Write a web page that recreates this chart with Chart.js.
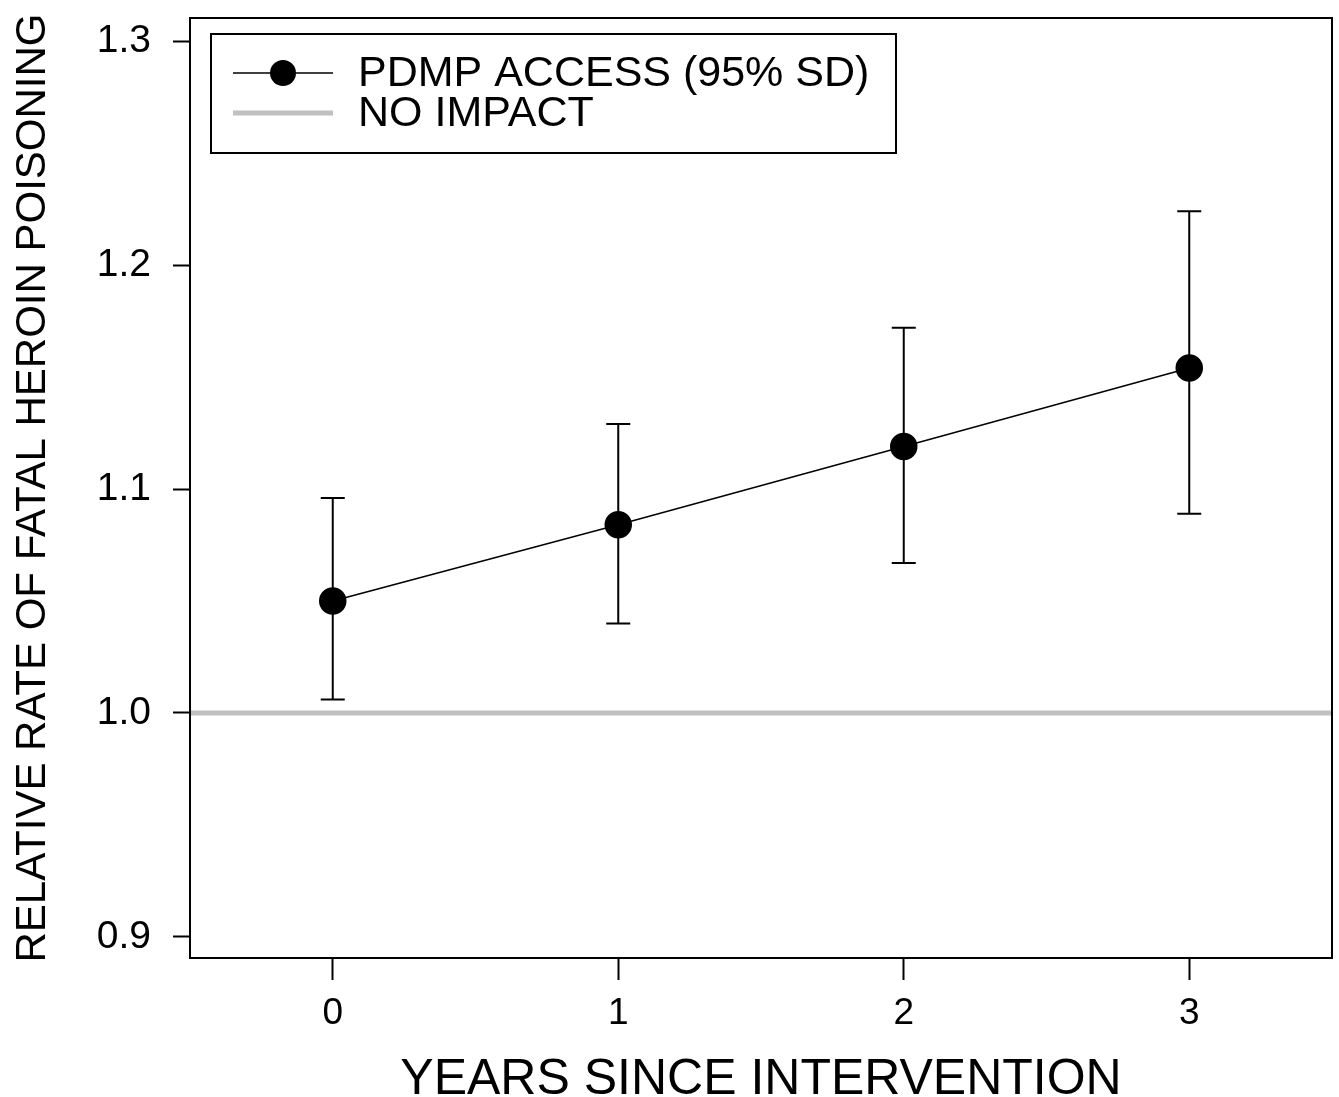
<!DOCTYPE html>
<html>
<head>
<meta charset="utf-8">
<script src="https://cdn.jsdelivr.net/npm/chart.js@4.4.0/dist/chart.umd.min.js"></script>
<style>
html,body{margin:0;padding:0;background:#fff;}
#wrap{width:1339px;height:1097px;}
</style>
</head>
<body>
<div id="wrap"><canvas id="c" width="1339" height="1097"></canvas></div>
<script>
const years = [0, 1, 2, 3];
const rateMean = [1.050, 1.084, 1.119, 1.154];
const rateUpper = [1.096, 1.129, 1.172, 1.224];
const rateLower = [1.006, 1.040, 1.067, 1.089];
const noImpactValue = 1.0;
const yTicks = [0.9, 1.0, 1.1, 1.2, 1.3];
const xTicks = [0, 1, 2, 3];
const seriesLabels = ['PDMP ACCESS (95% SD)', 'NO IMPACT'];
const xTitle = 'YEARS SINCE INTERVENTION';
const yTitle = 'RELATIVE RATE OF FATAL HEROIN POISONING';

const FONT = '"Liberation Sans", Arial, sans-serif';

const errorBars = {
  id: 'errorBars',
  beforeDatasetsDraw(chart) {
    const ctx = chart.ctx, xs = chart.scales.x, ys = chart.scales.y;
    ctx.save();
    ctx.strokeStyle = '#000';
    ctx.lineWidth = 2;
    years.forEach((yr, i) => {
      const px = xs.getPixelForValue(yr);
      const pu = ys.getPixelForValue(rateUpper[i]);
      const pl = ys.getPixelForValue(rateLower[i]);
      ctx.beginPath();
      ctx.moveTo(px, pu); ctx.lineTo(px, pl);
      ctx.moveTo(px - 12, pu); ctx.lineTo(px + 12, pu);
      ctx.moveTo(px - 12, pl); ctx.lineTo(px + 12, pl);
      ctx.stroke();
    });
    ctx.restore();
  }
};

const frameAndLegend = {
  id: 'frameAndLegend',
  afterDraw(chart) {
    const ctx = chart.ctx, a = chart.chartArea;
    ctx.save();
    ctx.strokeStyle = '#000';
    ctx.lineWidth = 2;
    ctx.strokeRect(a.left, a.top, a.right - a.left, a.bottom - a.top);
    const lx = a.left + 21, ly = a.top + 16, lw = 685, lh = 119;
    ctx.fillStyle = '#fff';
    ctx.fillRect(lx, ly, lw, lh);
    ctx.strokeRect(lx, ly, lw, lh);
    const y1 = ly + 39, y2 = ly + 79;
    ctx.lineWidth = 1.5;
    ctx.beginPath(); ctx.moveTo(lx + 22, y1); ctx.lineTo(lx + 122, y1); ctx.stroke();
    ctx.fillStyle = '#000';
    ctx.beginPath(); ctx.arc(lx + 72, y1, 13, 0, Math.PI * 2); ctx.fill();
    ctx.strokeStyle = '#c0c0c0';
    ctx.lineWidth = 5;
    ctx.beginPath(); ctx.moveTo(lx + 22, y2); ctx.lineTo(lx + 122, y2); ctx.stroke();
    ctx.fillStyle = '#000';
    ctx.font = '43px ' + FONT;
    ctx.textBaseline = 'middle';
    ctx.textAlign = 'left';
    ctx.fillText(seriesLabels[0], lx + 147, y1 + 1);
    ctx.fillText(seriesLabels[1], lx + 147, y2 + 1);
    ctx.restore();
  }
};

new Chart(document.getElementById('c'), {
  type: 'scatter',
  data: {
    datasets: [
      {
        label: seriesLabels[1],
        data: [{x: -0.5, y: noImpactValue}, {x: 3.5, y: noImpactValue}],
        showLine: true,
        borderColor: '#c0c0c0',
        borderWidth: 5,
        pointRadius: 0,
        order: 2
      },
      {
        label: seriesLabels[0],
        data: years.map((x, i) => ({x: x, y: rateMean[i]})),
        showLine: true,
        borderColor: '#000',
        borderWidth: 1.5,
        backgroundColor: '#000',
        pointBackgroundColor: '#000',
        pointBorderColor: '#000',
        pointRadius: 13,
        order: 1
      }
    ]
  },
  options: {
    responsive: false,
    animation: false,
    events: [],
    layout: { autoPadding: false, padding: { top: 18, right: 7, left: 0, bottom: 0 } },
    plugins: { legend: { display: false }, tooltip: { enabled: false } },
    scales: {
      x: {
        type: 'linear',
        min: -0.5, max: 3.5,
        afterBuildTicks: s => { s.ticks = xTicks.map(v => ({value: v})); },
        afterFit: s => { s.height = 139; s.paddingLeft = 0; s.paddingRight = 0; },
        grid: { drawOnChartArea: false, drawTicks: true, tickLength: 22, tickColor: '#000', tickWidth: 2 },
        border: { display: false },
        ticks: { color: '#000', font: { family: FONT, size: 37 }, padding: 12 },
        title: { display: true, text: xTitle, color: '#000', font: { family: FONT, size: 50 }, padding: { top: 0, bottom: -13 } }
      },
      y: {
        type: 'linear',
        min: 0.8906, max: 1.3103,
        afterBuildTicks: s => { s.ticks = yTicks.map(v => ({value: v})); },
        afterFit: s => { s.width = 190; s.paddingTop = 0; s.paddingBottom = 0; },
        grid: { drawOnChartArea: false, drawTicks: true, tickLength: 17, tickColor: '#000', tickWidth: 2 },
        border: { display: false },
        ticks: { color: '#000', font: { family: FONT, size: 39 }, padding: 22, callback: v => v.toFixed(1) },
        title: { display: true, text: yTitle, color: '#000', font: { family: FONT, size: 42 }, padding: { top: 8, bottom: 0 } }
      }
    }
  },
  plugins: [errorBars, frameAndLegend]
});
</script>
</body>
</html>
